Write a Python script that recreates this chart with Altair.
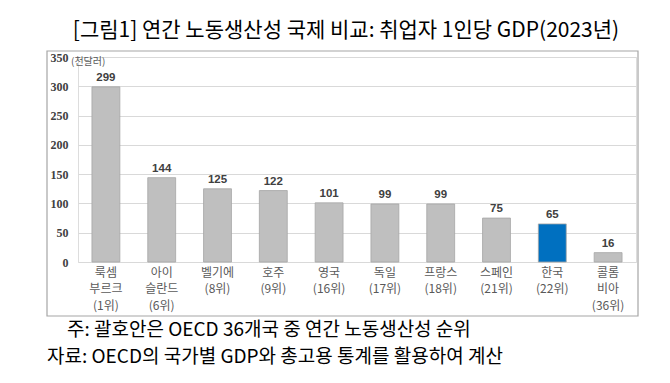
import altair as alt
import pandas as pd

# ---- data ----
countries = ["룩셈|부르크|(1위)", "아이|슬란드|(6위)", "벨기에|(8위)", "호주|(9위)", "영국|(16위)",
             "독일|(17위)", "프랑스|(18위)", "스페인|(21위)", "한국|(22위)", "콜롬|비아|(36위)"]
values = [299, 144, 125, 122, 101, 99, 99, 75, 65, 16]
is_korea = [False, False, False, False, False, False, False, False, True, False]
y_ticks = [0, 50, 100, 150, 200, 250, 300, 350]
title_text = "[그림1] 연간 노동생산성 국제 비교: 취업자 1인당 GDP(2023년)"
unit_text = "(천달러)"
note_text = "주: 괄호안은 OECD 36개국 중 연간 노동생산성 순위"
source_text = "자료: OECD의 국가별 GDP와 총고용 통계를 활용하여 계산"

df = pd.DataFrame({"country": countries, "value": values, "korea": is_korea})
one = pd.DataFrame({"k": [0]})

FONT = "Noto Sans CJK KR"

x_enc = alt.X("country:N", sort=countries, title=None,
              scale=alt.Scale(paddingInner=0.5, paddingOuter=0.25),
              axis=alt.Axis(labelExpr="split(datum.value, '|')", labelAngle=0,
                            labelFontSize=12, labelColor="#595959", labelFont=FONT,
                            labelLineHeight=16.5, labelPadding=5, ticks=False, domain=False,
                            grid=False, labelBaseline="top"))
y_enc = alt.Y("value:Q", title=None,
              scale=alt.Scale(domain=[0, 350], nice=False),
              axis=alt.Axis(values=y_ticks, ticks=False, domain=False, labelPadding=10,
                            labelOverlap=False,
                            labelFont="Liberation Serif", labelFontWeight="bold",
                            labelFontSize=12, labelColor="#404040",
                            gridColor="#d9d9d9", gridWidth=1))

base = alt.Chart(df).encode(x=x_enc, y=y_enc)

bars = base.mark_bar(stroke="#a6a6a6", strokeWidth=0.8).encode(
    color=alt.condition("datum.korea", alt.value("#0070c0"), alt.value("#bfbfbf")),
)

labels = base.mark_text(dy=-9, font="Liberation Sans", fontWeight="bold",
                        fontSize=11.5, color="#404040").encode(
    text=alt.Text("value:Q"),
)

frame = alt.Chart(one).mark_rect(fill=None, stroke="#a6a6a6", strokeWidth=1.2).encode(
    x=alt.value(-31), x2=alt.value(560), y=alt.value(-6), y2=alt.value(259))

unit = alt.Chart(one).mark_text(align="left", baseline="middle", font=FONT,
                                fontSize=10, color="#595959").encode(
    x=alt.value(-7), y=alt.value(5), text=alt.value(unit_text))

note = alt.Chart(one).mark_text(align="left", baseline="middle", font=FONT,
                                fontSize=19, color="#000000").encode(
    x=alt.value(-11), y=alt.value(273), text=alt.value(note_text))

source = alt.Chart(one).mark_text(align="left", baseline="middle", font=FONT,
                                  fontSize=19, color="#000000").encode(
    x=alt.value(-31), y=alt.value(300), text=alt.value(source_text))

chart = alt.layer(frame, bars, labels, unit, note, source).properties(
    width=558, height=205,
    title=alt.TitleParams(title_text, font=FONT, fontSize=21, fontWeight="normal",
                          color="#000000", anchor="middle", dx=-11, offset=9),
    autosize=alt.AutoSizeParams(type="none"),
    padding={"left": 70, "top": 49, "right": 10, "bottom": 115},
).configure_view(stroke=None).configure(background="white")

chart.save("out.html", embed_options={"renderer": "svg", "actions": False})
